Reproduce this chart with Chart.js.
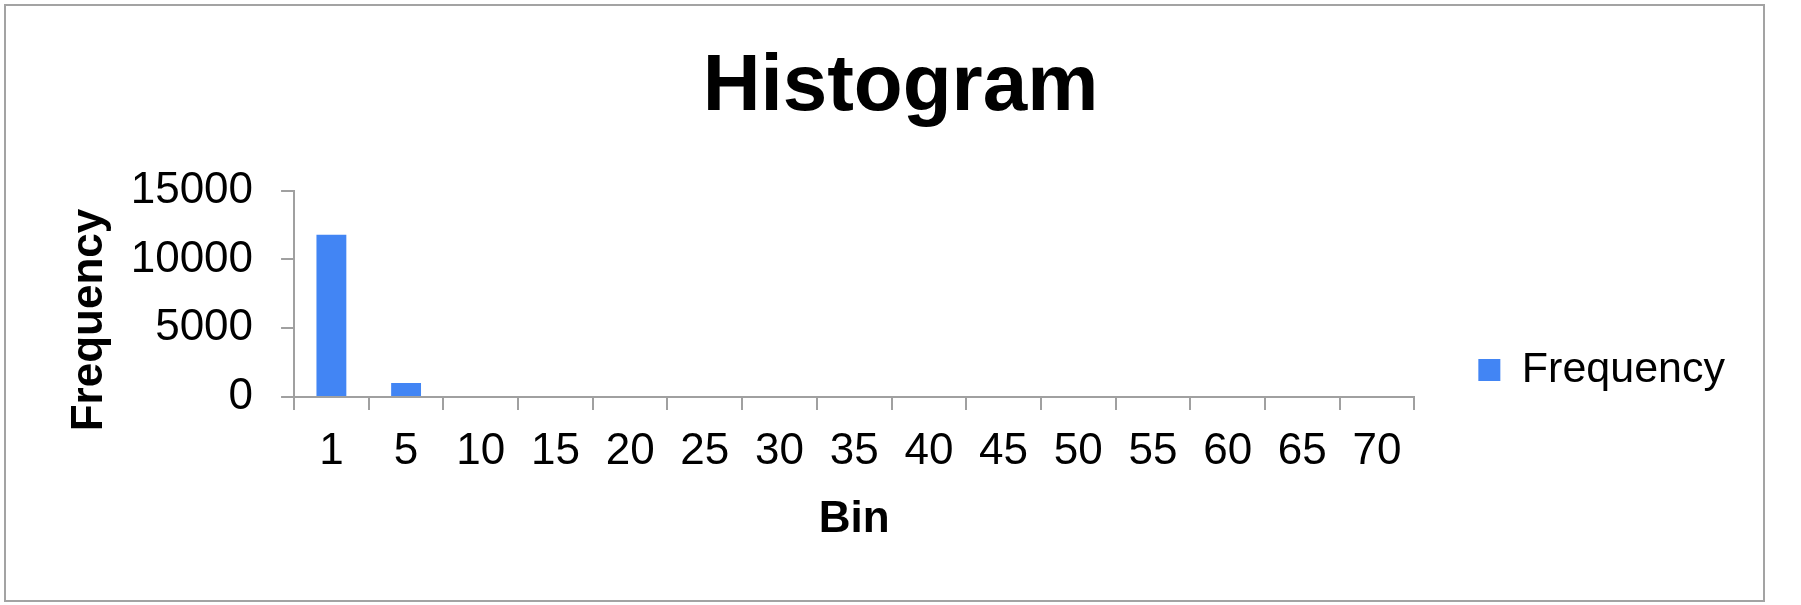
<!DOCTYPE html>
<html>
<head>
<meta charset="utf-8">
<script src="https://cdn.jsdelivr.net/npm/chart.js@4.4.1/dist/chart.umd.min.js"></script>
<style>
  html, body { margin: 0; padding: 0; background: #ffffff; }
  #wrap { position: relative; width: 1801px; height: 605px; }
  #frame { position: absolute; left: 4px; top: 4px; width: 1761px; height: 598px; box-sizing: border-box; border: 2px solid #a3a3a3; pointer-events: none; }
  canvas { display: block; }
</style>
</head>
<body>
<div id="wrap">
  <canvas id="c" width="1801" height="605"></canvas>
  <div id="frame"></div>
</div>
<script>
const chartTitle = 'Histogram';
const xAxisTitle = 'Bin';
const yAxisTitle = 'Frequency';
const seriesName = 'Frequency';
const bins = ['1', '5', '10', '15', '20', '25', '30', '35', '40', '45', '50', '55', '60', '65', '70'];
const frequency = [11800, 1020, 0, 0, 0, 0, 0, 0, 0, 0, 0, 0, 0, 0, 0];
const yTicks = [0, 5000, 10000, 15000];

const FONT = "'Liberation Sans', Arial, Helvetica, sans-serif";
const AXIS_GRAY = '#a0a0a0';

const yTitlePlugin = {
  id: 'yTitle',
  afterDraw(chart) {
    const ctx = chart.ctx;
    ctx.save();
    ctx.translate(90, 320);
    ctx.rotate(-Math.PI / 2);
    ctx.font = 'bold 44px ' + FONT;
    ctx.fillStyle = '#000000';
    ctx.textAlign = 'center';
    ctx.textBaseline = 'middle';
    ctx.fillText(yAxisTitle, 0, 0);
    ctx.restore();
  }
};

new Chart(document.getElementById('c'), {
  type: 'bar',
  data: {
    labels: bins,
    datasets: [{
      label: seriesName,
      data: frequency,
      backgroundColor: '#4285f4',
      borderWidth: 0,
      barPercentage: 0.4,
      categoryPercentage: 1.0
    }]
  },
  plugins: [yTitlePlugin],
  options: {
    responsive: false,
    animation: false,
    devicePixelRatio: 1,
    layout: { padding: { left: 66, right: 66, top: 0, bottom: 0 } },
    plugins: {
      title: {
        display: true,
        text: chartTitle,
        color: '#000000',
        font: { family: FONT, size: 80, weight: 'bold', lineHeight: 1.2 },
        padding: { top: 40, bottom: 54.7 }
      },
      legend: {
        display: true,
        position: 'right',
        align: 'center',
        fullSize: true,
        title: { display: true, text: '', font: { size: 10, lineHeight: 1 }, padding: { top: 125, bottom: 0 } },
        labels: {
          boxWidth: 22,
          boxHeight: 22,
          padding: 64,
          color: '#000000',
          font: { family: FONT, size: 43 }
        }
      },
      tooltip: { enabled: false }
    },
    scales: {
      x: {
        grid: { display: true, drawOnChartArea: false, drawTicks: true, tickLength: 13, color: AXIS_GRAY, lineWidth: 2, offset: true },
        border: { display: true, color: AXIS_GRAY, width: 2 },
        ticks: { color: '#000000', padding: 19.5, maxRotation: 0, autoSkip: false, font: { family: FONT, size: 44, lineHeight: 1.0 } },
        title: {
          display: true,
          text: xAxisTitle,
          color: '#000000',
          font: { family: FONT, size: 44, weight: 'bold', lineHeight: 1.2 },
          padding: { top: 0.6, bottom: 58.6 }
        }
      },
      y: {
        min: 0,
        max: 15000,
        afterBuildTicks(scale) { scale.ticks = yTicks.map(v => ({ value: v })); },
        afterFit(scale) { scale.width += 36.7; },
        grid: { display: true, drawOnChartArea: false, drawTicks: true, tickLength: 13, color: AXIS_GRAY, lineWidth: 2 },
        border: { display: true, color: AXIS_GRAY, width: 2 },
        ticks: { color: '#000000', padding: 28, font: { family: FONT, size: 44 }, callback: (v) => String(v) },
        title: { display: false }
      }
    }
  }
});
</script>
</body>
</html>
